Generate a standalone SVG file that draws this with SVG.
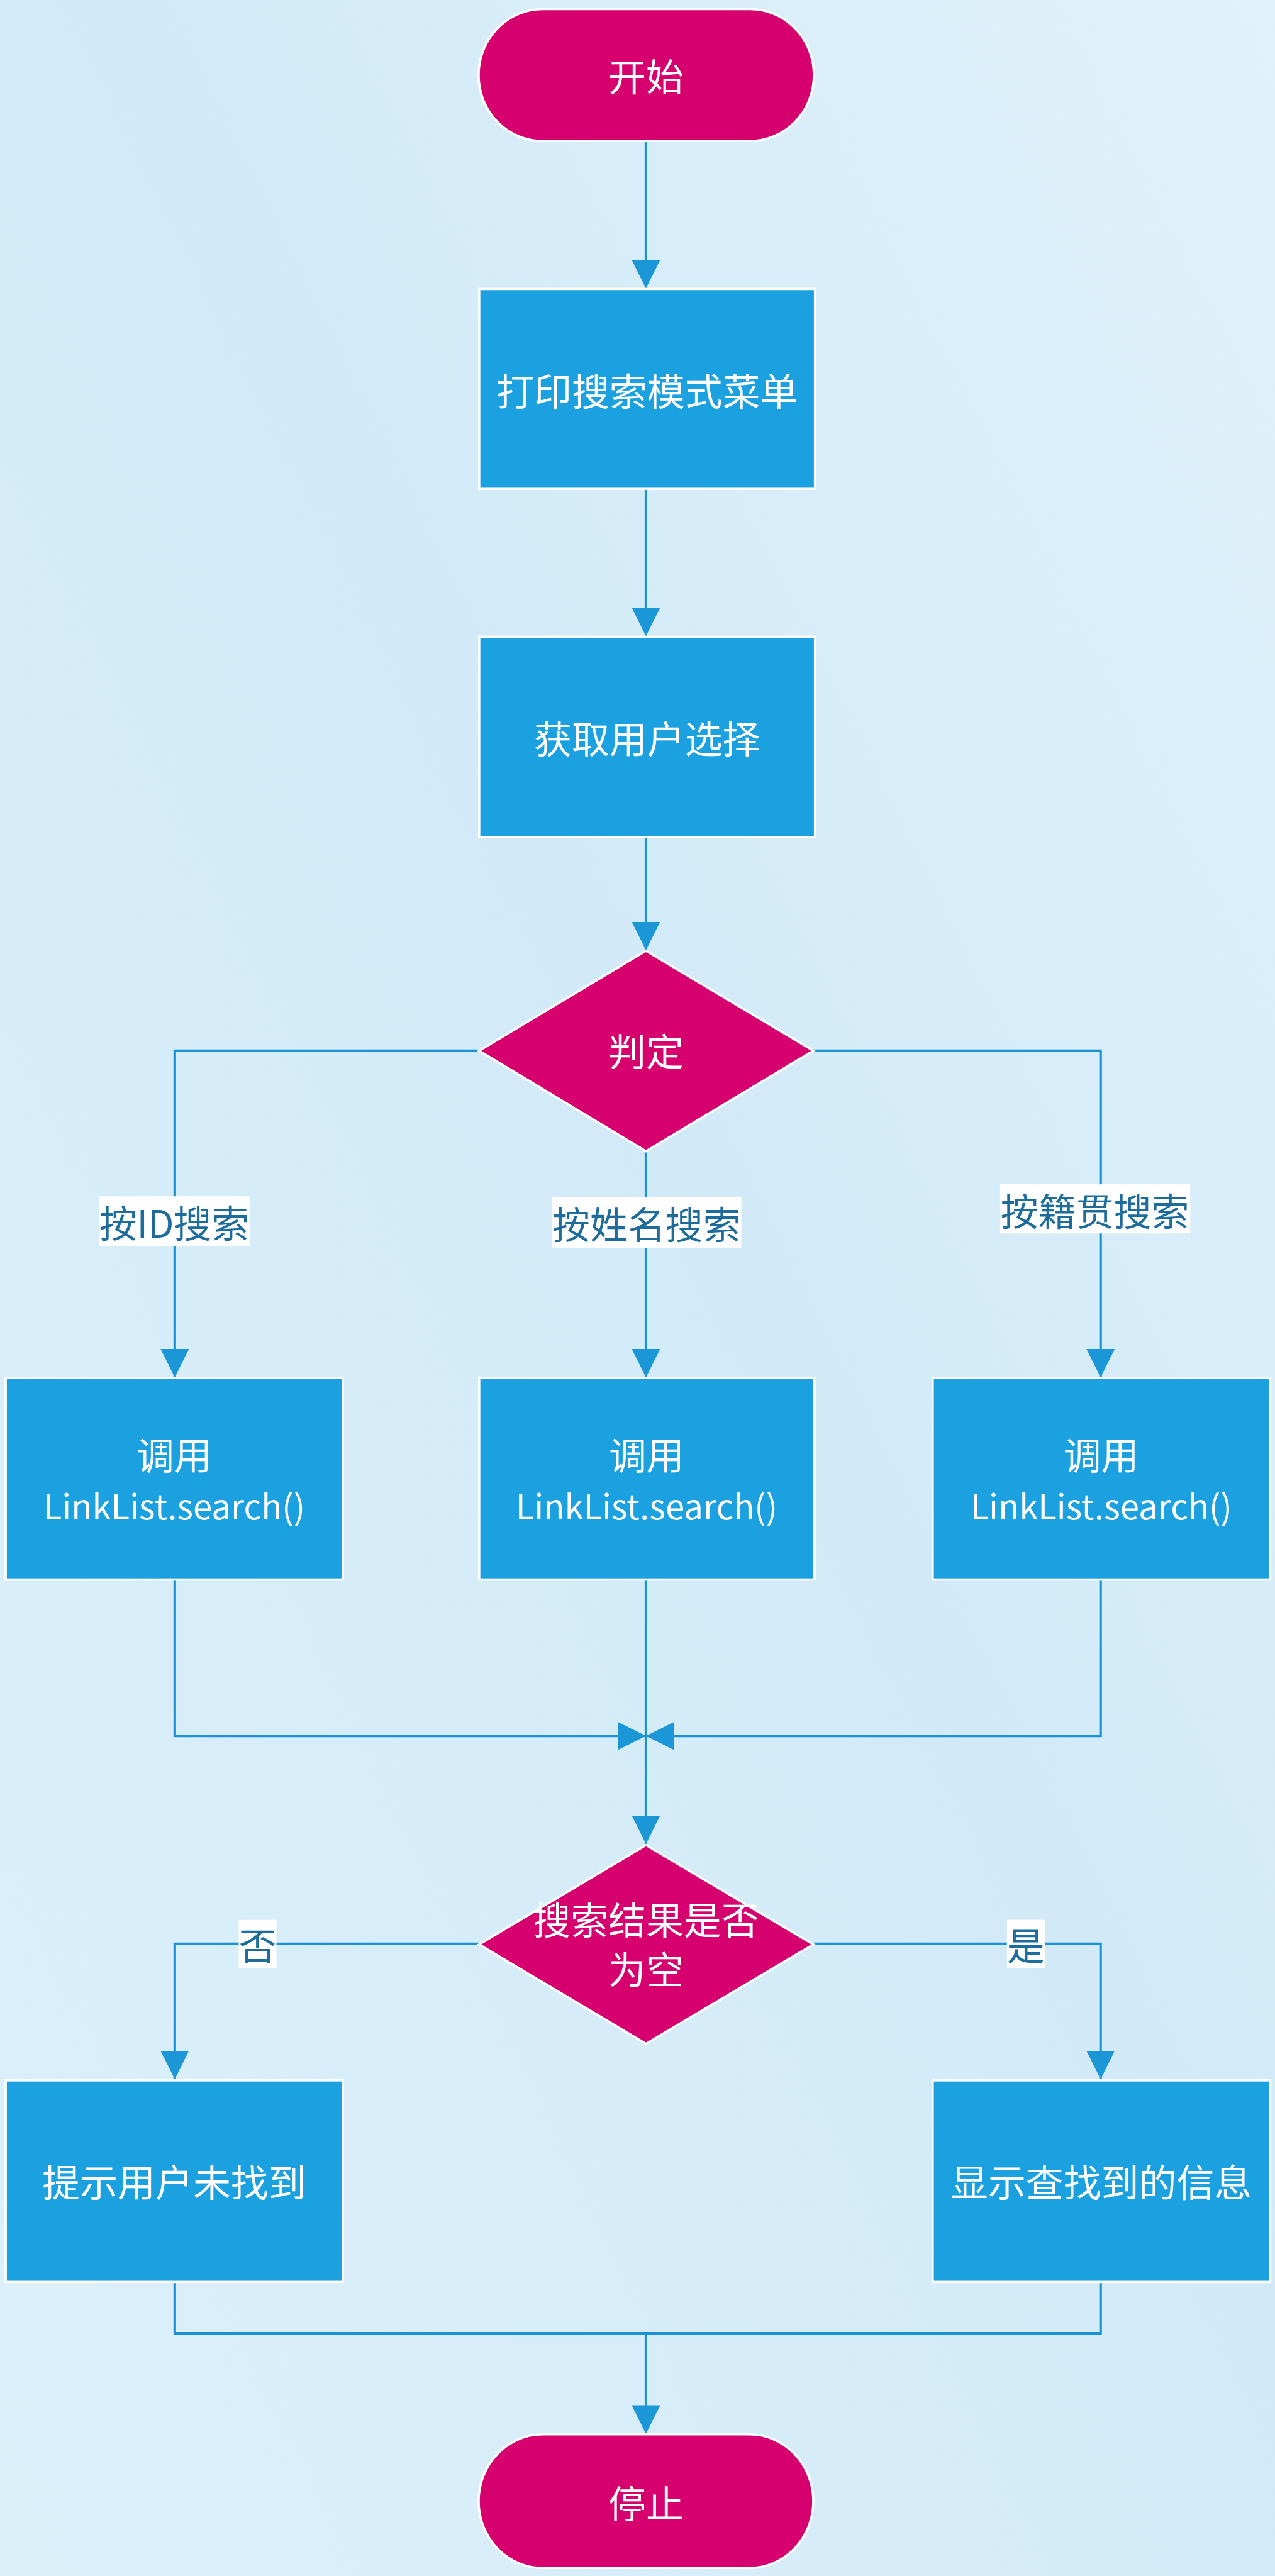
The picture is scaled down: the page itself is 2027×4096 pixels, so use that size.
<svg xmlns="http://www.w3.org/2000/svg" width="2027" height="4096" viewBox="0 0 2027 4096">
<defs>
<linearGradient id="bg" x1="1" y1="0" x2="0" y2="1">
<stop offset="0" stop-color="#e0f2fb"/>
<stop offset="0.45" stop-color="#d2eaf8"/>
<stop offset="1" stop-color="#dcf0fa"/>
</linearGradient>
<marker id="arr" markerUnits="userSpaceOnUse" markerWidth="50" markerHeight="50" viewBox="0 0 50 50" refX="50" refY="25" orient="auto">
<path d="M0,0 L50,25 L0,50 Z" fill="#1b96d6"/>
</marker>
<style>
.term{fill:#d6006e;stroke:#ffffff;stroke-width:4}
.proc{fill:#1ba0e0;stroke:#ffffff;stroke-width:4}
.dec{fill:#d6006e;stroke:#ffffff;stroke-width:4}
.t{font-family:"Noto Sans CJK SC","Noto Sans",sans-serif;font-size:66px;fill:#ffffff;text-anchor:middle;dominant-baseline:central}
.tl{font-family:"Noto Sans CJK SC","Noto Sans",sans-serif;font-size:60px;fill:#ffffff;text-anchor:middle;dominant-baseline:central}
.lbl{font-family:"Noto Sans CJK SC","Noto Sans",sans-serif;font-size:66px;fill:#1d6c9c;text-anchor:middle;dominant-baseline:central}
.lblbox{fill:#ffffff}
.c{fill:none;stroke:#1b92d2;stroke-width:4.5}
.ca{fill:none;stroke:#1b92d2;stroke-width:4.5;marker-end:url(#arr)}
</style>
</defs>
<rect x="0" y="0" width="2027" height="4096" fill="url(#bg)"/>
<g transform="scale(0.908)">
<g id="connectors">
<path class="ca" d="M1131,247 V505"/>
<path class="ca" d="M1131,856 V1114"/>
<path class="ca" d="M1131,1466 V1664"/>
<path class="ca" d="M839,1840 H306 V2412"/>
<path class="ca" d="M1131,2016 V2412"/>
<path class="ca" d="M1424,1840 H1927 V2412"/>
<path class="ca" d="M306,2766 V3040 H1131"/>
<path class="ca" d="M1927,2766 V3040 H1131"/>
<path class="ca" d="M1131,2766 V3229"/>
<path class="ca" d="M839,3404 H306 V3641"/>
<path class="ca" d="M1424,3404 H1927 V3641"/>
<path class="c" d="M306,3996 V4086 H1927 V3996"/>
<path class="ca" d="M1131,4086 V4262"/>
</g>
<g id="label-id">
<rect class="lblbox" x="173" y="2095" width="264" height="87"/>
<text class="lbl" x="305" y="2138">按ID搜索</text>
</g>
<g id="label-name">
<rect class="lblbox" x="966" y="2096" width="332" height="90"/>
<text class="lbl" x="1132" y="2140">按姓名搜索</text>
</g>
<g id="label-origin">
<rect class="lblbox" x="1751" y="2074" width="333" height="86"/>
<text class="lbl" x="1917" y="2117">按籍贯搜索</text>
</g>
<g id="label-no">
<rect class="lblbox" x="418" y="3362" width="66" height="85"/>
<text class="lbl" x="451" y="3404">否</text>
</g>
<g id="label-yes">
<rect class="lblbox" x="1763" y="3362" width="67" height="85"/>
<text class="lbl" x="1796" y="3404">是</text>
</g>
<g id="start">
<rect class="term" x="838" y="16" width="587" height="231" rx="112" ry="115"/>
<text class="t" x="1131" y="131">开始</text>
</g>
<g id="print-menu">
<rect class="proc" x="839" y="506" width="588" height="350"/>
<text class="t" x="1133" y="681">打印搜索模式菜单</text>
</g>
<g id="get-choice">
<rect class="proc" x="839" y="1115" width="588" height="351"/>
<text class="t" x="1133" y="1290">获取用户选择</text>
</g>
<g id="decide">
<polygon class="dec" points="1131,1665 1424,1840 1131,2016 839,1840"/>
<text class="t" x="1131" y="1838">判定</text>
</g>
<g id="search-id">
<rect class="proc" x="10" y="2413" width="590" height="353"/>
<text class="t" x="305" y="2545">调用</text>
<text class="tl" x="305" y="2635">LinkList.search()</text>
</g>
<g id="search-name">
<rect class="proc" x="839" y="2413" width="587" height="353"/>
<text class="t" x="1132" y="2545">调用</text>
<text class="tl" x="1132" y="2635">LinkList.search()</text>
</g>
<g id="search-origin">
<rect class="proc" x="1633" y="2413" width="591" height="353"/>
<text class="t" x="1928" y="2545">调用</text>
<text class="tl" x="1928" y="2635">LinkList.search()</text>
</g>
<g id="is-empty">
<polygon class="dec" points="1131,3231 1424,3405 1131,3579 839,3405"/>
<text class="t" x="1131" y="3358">搜索结果是否</text>
<text class="t" x="1131" y="3446">为空</text>
</g>
<g id="not-found">
<rect class="proc" x="10" y="3643" width="590" height="353"/>
<text class="t" x="305" y="3818">提示用户未找到</text>
</g>
<g id="show-info">
<rect class="proc" x="1633" y="3643" width="591" height="353"/>
<text class="t" x="1928" y="3818">显示查找到的信息</text>
</g>
<g id="stop">
<rect class="term" x="838" y="4263" width="586" height="234" rx="112" ry="117"/>
<text class="t" x="1131" y="4380">停止</text>
</g>
</g>
</svg>
